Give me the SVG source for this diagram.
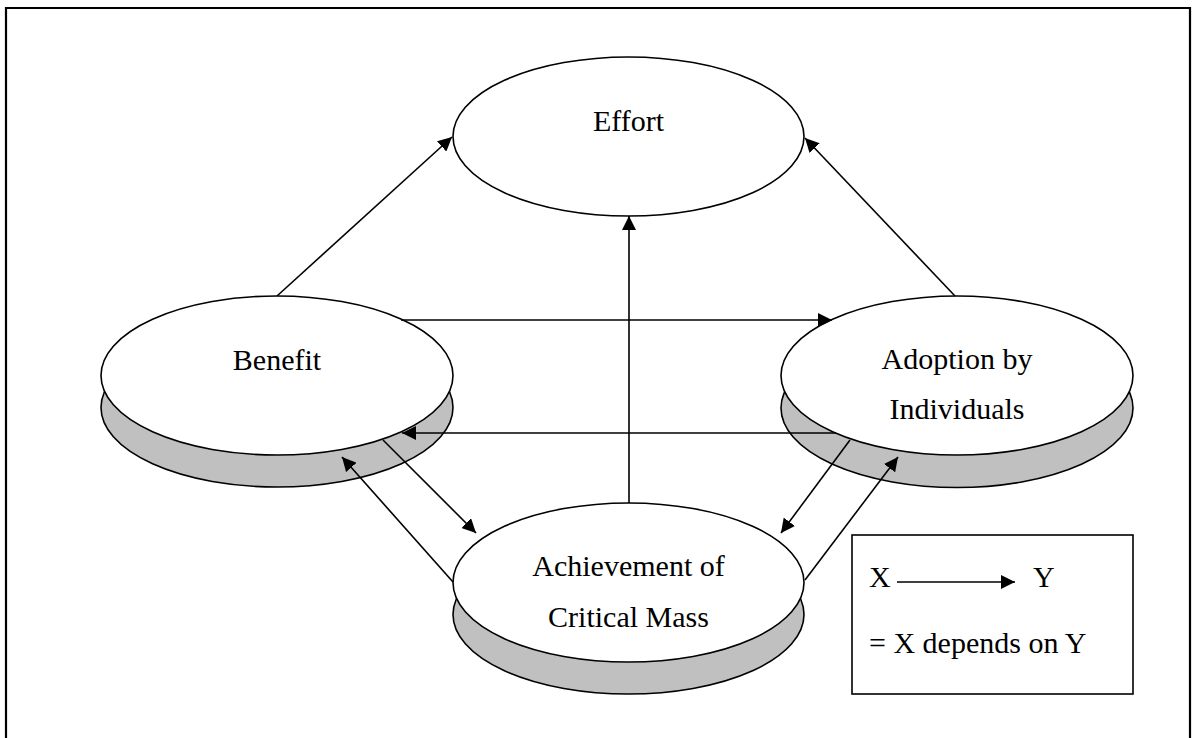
<svg xmlns="http://www.w3.org/2000/svg" width="1196" height="738" viewBox="0 0 1196 738">
  <defs>
    <marker id="arrow" markerUnits="userSpaceOnUse" markerWidth="14" markerHeight="14" refX="14" refY="7" orient="auto">
      <path d="M0,0 L14,7 L0,14 z" fill="#000"/>
    </marker>
    <style>
      .top { fill: #fff; stroke: #000; stroke-width: 1.6; }
      .rim { fill: #c0c0c0; stroke: #000; stroke-width: 1.6; }
      .label { font-family: "Liberation Serif", "Times New Roman", serif; font-size: 30px; fill: #000; }
      .mid { text-anchor: middle; }
      .edge { stroke: #000; stroke-width: 1.6; fill: none; marker-end: url(#arrow); }
    </style>
  </defs>

  <rect width="1196" height="738" fill="#fff"/>

  <!-- outer frame -->
  <path d="M6,738 L6,8 L1190,8 L1190,738" fill="none" stroke="#000" stroke-width="2.2"/>

  <!-- nodes -->
  <g id="effort">
    <ellipse class="top" cx="628.5" cy="136.5" rx="175.5" ry="79.5"/>
    <text class="label mid" x="628.5" y="131">Effort</text>
  </g>

  <g id="benefit">
    <ellipse class="rim" cx="277" cy="407.5" rx="176" ry="79.5"/>
    <ellipse class="top" cx="277" cy="375.5" rx="176" ry="79.5"/>
    <text class="label mid" x="277" y="370">Benefit</text>
  </g>

  <g id="adoption">
    <ellipse class="rim" cx="957" cy="408" rx="176" ry="79.5"/>
    <ellipse class="top" cx="957" cy="375.5" rx="176" ry="79.5"/>
    <text class="label mid" x="957" y="369">Adoption by</text>
    <text class="label mid" x="957" y="419">Individuals</text>
  </g>

  <g id="critical-mass">
    <ellipse class="rim" cx="628.5" cy="614.5" rx="175.5" ry="79.5"/>
    <ellipse class="top" cx="628.5" cy="582.5" rx="175.5" ry="79.5"/>
    <text class="label mid" x="628.5" y="576">Achievement of</text>
    <text class="label mid" x="628.5" y="627">Critical Mass</text>
  </g>

  <!-- connectors: arrow points from X to Y where X depends on Y -->
  <g id="connectors">
    <line class="edge" x1="277" y1="296" x2="452" y2="137"/>
    <line class="edge" x1="955" y1="296" x2="805" y2="138"/>
    <line class="edge" x1="629" y1="503" x2="629" y2="216"/>
    <line class="edge" x1="401" y1="320" x2="832" y2="320"/>
    <line class="edge" x1="836" y1="433" x2="402" y2="433"/>
    <line class="edge" x1="383" y1="440" x2="476" y2="533"/>
    <line class="edge" x1="453" y1="582" x2="342" y2="457"/>
    <line class="edge" x1="850" y1="440" x2="781" y2="533"/>
    <line class="edge" x1="805" y1="580" x2="898" y2="457"/>
  </g>

  <!-- key -->
  <g id="legend">
    <rect x="852" y="535" width="281" height="159" fill="#fff" stroke="#000" stroke-width="1.6"/>
    <text class="label" x="869" y="587">X</text>
    <line class="edge" x1="897" y1="582" x2="1015" y2="582"/>
    <text class="label" x="1033" y="587">Y</text>
    <text class="label" x="869" y="653">= X depends on Y</text>
  </g>
</svg>
